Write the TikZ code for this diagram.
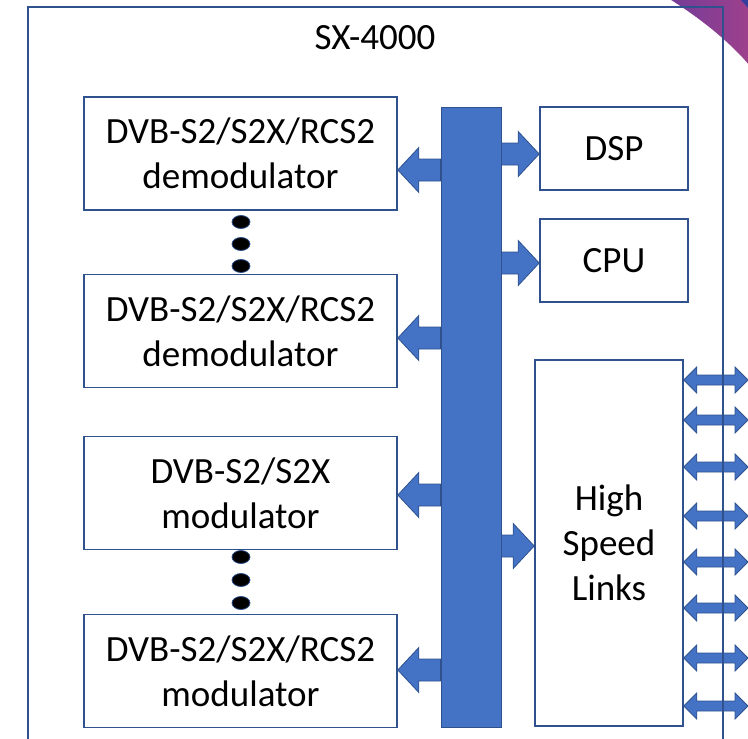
\documentclass[tikz,border=0pt]{standalone}
\usepackage{fontspec}
\setmainfont{Carlito}
\usetikzlibrary{calc, shapes.geometric}
\definecolor{boxline}{RGB}{47,82,143}
\definecolor{busfill}{RGB}{68,114,196}
\definecolor{cornerA}{RGB}{115,60,152}
\definecolor{cornerB}{RGB}{158,64,140}
\definecolor{cornerC}{RGB}{52,62,158}
% 总线上的块箭头: #1 起点, #2 箭尖
\newcommand{\busarrow}[2]{%
  \filldraw[arrowfill] let \p1=#1, \p2=#2, \n1={\x2-ifthenelse(\x2>\x1,21,-21)} in
    (\x1,\y1+11pt) -- (\n1,\y1+11pt) -- (\n1,\y1+22.5pt) -- (\x2,\y1)
    -- (\n1,\y1-22.5pt) -- (\n1,\y1-11pt) -- (\x1,\y1-11pt) -- cycle;}
% 双向小箭头: #1 左端, #2 右端
\newcommand{\linkarrow}[2]{%
  \filldraw[arrowfill] let \p1=#1, \p2=#2 in
    (\x1,\y1) -- (\x1+13pt,\y1+13pt) -- (\x1+13pt,\y1+5pt) -- (\x2-13pt,\y1+5pt)
    -- (\x2-13pt,\y1+13pt) -- (\x2,\y1) -- (\x2-13pt,\y1-13pt) -- (\x2-13pt,\y1-5pt)
    -- (\x1+13pt,\y1-5pt) -- (\x1+13pt,\y1-13pt) -- cycle;}
\begin{document}
\begin{tikzpicture}[x=1pt, y=-1pt,
    bigfont/.style={font={\fontsize{37}{45}\selectfont}},
    blockbox/.style={draw=boxline, line width=1.6pt, fill=white, align=center, bigfont},
    arrowfill/.style={fill=busfill, draw=boxline, line width=0.8pt},
    dot/.style={ellipse, draw=boxline, line width=0.8pt, fill=black, minimum width=18pt, minimum height=13pt, inner sep=0pt}]
    \useasboundingbox (0,0) rectangle (748,739);
    \clip (0,0) rectangle (748,739);
    % 右上角装饰
    \shade[left color=cornerA, right color=cornerB]
        (668,-2) .. controls (700,18) and (730,42) .. (750,66) -- (750,-2) -- cycle;
    \fill[cornerC] (739,-2) -- (750,-2) -- (750,10) -- cycle;
    % 高速链路
    \node[blockbox, minimum width=148pt, minimum height=366pt] (hsl) at (609,543) {High\\Speed\\Links};
    \foreach \linky in {380,420,467,516,562,608,658,706} {
        \linkarrow{(hsl.east |- 0,\linky)}{(748,\linky)}
    }
    % 外框
    \draw[boxline, line width=2pt] (28,760) -- (28,7) -- (723,7) -- (723,760);
    \node[bigfont] (title) at (375,38) {SX-4000};
    % 总线
    \node[fill=busfill, draw=boxline, line width=1pt, minimum width=60pt, minimum height=620pt] (bus) at (471,417) {};
    % 解调器和调制器
    \node[blockbox, minimum width=313pt, minimum height=113pt] (demodA) at (240.5,153.5) {DVB-S2/S2X/RCS2\\demodulator};
    \node[blockbox, minimum width=313pt, minimum height=113pt] (demodB) at (240.5,331) {DVB-S2/S2X/RCS2\\demodulator};
    \node[blockbox, minimum width=313pt, minimum height=113pt] (modA) at (240.5,493) {DVB-S2/S2X\\modulator};
    \node[blockbox, minimum width=313pt, minimum height=113pt] (modB) at (240.5,671) {DVB-S2/S2X/RCS2\\modulator};
    \foreach \d [count=\i] in {222,244,266} {
        \node[dot] (dotA\i) at (241,\d) {};
    }
    \foreach \d [count=\i] in {557,580,603} {
        \node[dot] (dotB\i) at (241,\d) {};
    }
    % DSP 和 CPU
    \node[blockbox, minimum width=148pt, minimum height=83pt] (dsp) at (614,148.5) {DSP};
    \node[blockbox, minimum width=148pt, minimum height=83pt] (cpu) at (614,260.5) {CPU};
    % 块箭头
    \busarrow{(bus.west |- 0,170)}{(demodA.east |- 0,170)}
    \busarrow{(bus.west |- 0,338)}{(demodB.east |- 0,338)}
    \busarrow{(bus.west |- 0,495)}{(modA.east |- 0,495)}
    \busarrow{(bus.west |- 0,670)}{(modB.east |- 0,670)}
    \busarrow{(bus.east |- 0,154)}{(dsp.west |- 0,154)}
    \busarrow{(bus.east |- 0,263)}{(cpu.west |- 0,263)}
    \busarrow{(bus.east |- 0,546)}{(hsl.west |- 0,546)}
\end{tikzpicture}
\end{document}
